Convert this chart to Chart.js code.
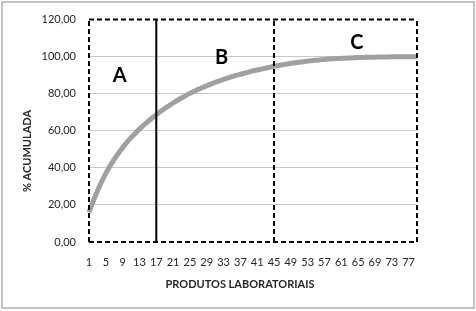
<!DOCTYPE html>
<html>
<head>
<meta charset="utf-8">
<script src="https://cdn.jsdelivr.net/npm/chart.js@4"></script>
<style>
  html, body { margin: 0; padding: 0; background: #fff; }
  #wrap { width: 476px; height: 311px; position: relative; }
</style>
</head>
<body>
<div id="wrap"><canvas id="chart" width="476" height="311"></canvas></div>
<script>
// produtos 1..79
var produtos = [];
for (var i = 1; i <= 79; i++) produtos.push(String(i));

// % acumulada
var acumulada = [
  16, 22, 27.5, 32.5, 37, 41, 44.6, 47.9, 50.9, 53.7,
  56.3, 58.7, 60.9, 63, 65, 66.9, 68.7, 70.4, 72, 73.5,
  75, 76.4, 77.7, 79, 80.2, 81.3, 82.4, 83.4, 84.3, 85.2,
  86.1, 86.9, 87.7, 88.5, 89.2, 89.9, 90.5, 91.1, 91.7, 92.3,
  92.8, 93.3, 93.8, 94.3, 94.8, 95.2, 95.6, 96.0, 96.4, 96.7,
  97.0, 97.3, 97.6, 97.85, 98.1, 98.3, 98.5, 98.7, 98.9, 99.0,
  99.1, 99.2, 99.3, 99.4, 99.5, 99.6, 99.65, 99.7, 99.75, 99.8,
  99.84, 99.88, 99.91, 99.94, 99.96, 99.98, 99.99, 100, 100
];

// limites das classes A / B / C
var limites = ['1', '17', '45', '79'];
var classes = ['A', 'B', 'C'];
var tituloX = 'PRODUTOS LABORATORIAIS';
var tituloY = '% ACUMULADA';

var font = "Lato, 'Open Sans', sans-serif";
var corTexto = '#262626';

function linha(pts, dash) {
  return {
    type: 'line',
    data: pts,
    borderColor: '#000',
    borderWidth: 2,
    borderDash: dash,
    pointRadius: 0,
    fill: false,
    clip: false,
    order: 0,
  };
}

var datasets = [
  {
    type: 'line',
    data: acumulada,
    borderColor: '#a0a0a0',
    borderWidth: 5,
    pointRadius: 0,
    cubicInterpolationMode: 'monotone',
    fill: false,
    order: 1,
  },
  linha([{x: limites[0], y: 120}, {x: limites[3], y: 120}], [5, 3]),
  linha([{x: limites[0], y: 0}, {x: limites[3], y: 0}], [5, 3]),
  linha([{x: limites[0], y: 0}, {x: limites[0], y: 120}], [5, 3]),
  linha([{x: limites[3], y: 0}, {x: limites[3], y: 120}], [5, 3]),
  linha([{x: limites[2], y: 0}, {x: limites[2], y: 120}], [5, 3]),
  linha([{x: limites[1], y: 0}, {x: limites[1], y: 120}], []),
];

var letras = {
  id: 'letras',
  afterDatasetsDraw: function (chart, args, opts) {
    var ctx = chart.ctx;
    var xs = chart.scales.x, ys = chart.scales.y;
    ctx.save();
    ctx.font = 'bold 20px ' + font;
    ctx.fillStyle = '#000';
    ctx.textAlign = 'center';
    ctx.textBaseline = 'middle';
    opts.pos.forEach(function (p, k) {
      ctx.fillText(classes[k], xs.getPixelForValue(p[0]), ys.getPixelForValue(p[1]));
    });
    ctx.restore();
  }
};

// títulos dos eixos e moldura externa
var moldura = {
  id: 'moldura',
  afterDraw: function (chart) {
    var ctx = chart.ctx;
    ctx.save();
    ctx.strokeStyle = '#b0b0b0';
    ctx.lineWidth = 1.5;
    ctx.strokeRect(2, 2, chart.width - 4, chart.height - 5);

    ctx.fillStyle = corTexto;
    ctx.font = 'bold 11px ' + font;
    ctx.textAlign = 'center';
    ctx.textBaseline = 'middle';
    ctx.fillText(tituloX, 240, 284);
    ctx.translate(27, 151);
    ctx.rotate(-Math.PI / 2);
    ctx.fillText(tituloY, 0, 0);
    ctx.restore();
  }
};

var chart = new Chart(document.getElementById('chart'), {
  data: { labels: produtos, datasets: datasets },
  options: {
    responsive: false,
    animation: false,
    layout: { padding: { left: 0, right: 59, top: 19, bottom: 0 } },
    plugins: {
      legend: { display: false },
      tooltip: { enabled: false },
      letras: { pos: [[7.3, 90], [31.5, 99.5], [63.7, 107.5]] },
    },
    scales: {
      x: {
        type: 'category',
        offset: false,
        grid: { display: false, drawTicks: false },
        border: { display: false },
        ticks: {
          autoSkip: false,
          maxRotation: 0,
          padding: 14,
          color: corTexto,
          font: { family: font, size: 11 },
          callback: function (v, i) { return i % 4 === 0 ? this.getLabelForValue(v) : ''; }
        },
        afterFit: function (s) { s.height = 69; },
      },
      y: {
        min: 0,
        max: 120,
        grid: {
          drawTicks: false,
          color: function (c) { return (c.tick.value === 0 || c.tick.value === 120) ? 'rgba(0,0,0,0)' : '#c8c8c8'; },
          lineWidth: 1,
        },
        border: { display: false },
        ticks: {
          stepSize: 20,
          padding: 13,
          color: corTexto,
          font: { family: font, size: 11 },
          callback: function (v) { return v.toFixed(2).replace('.', ','); }
        },
        afterFit: function (s) { s.width = 89; },
      }
    }
  },
  plugins: [letras, moldura]
});
</script>
</body>
</html>
